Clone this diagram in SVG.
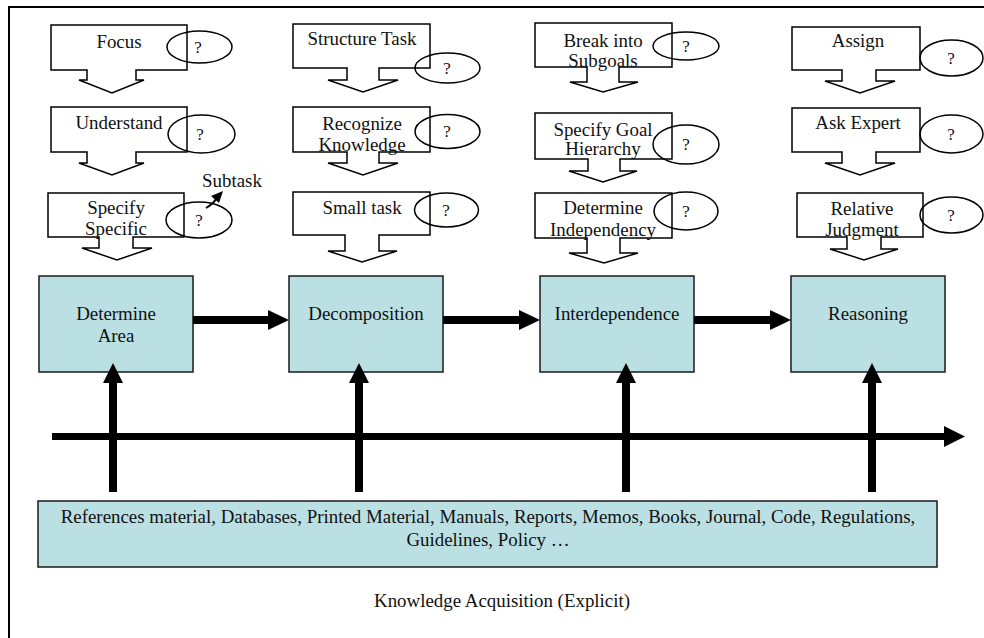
<svg xmlns="http://www.w3.org/2000/svg" width="984" height="638" viewBox="0 0 984 638">
  <defs>
    <style>
      text { font-family: "Liberation Serif", "Times New Roman", serif; font-size: 18.9px; fill: #111; }
      .mid { text-anchor: middle; }
      .callout { fill: #fff; stroke: #000; stroke-width: 1.5; stroke-linejoin: miter; }
      .bubble { fill: none; stroke: #000; stroke-width: 1.5; }
      .q { font-size: 17px; text-anchor: middle; }
      .stage { fill: #bbe0e3; stroke: #1a1a1a; stroke-width: 1.5; }
      .thick { stroke: #000; stroke-width: 8; fill: none; }
      .head { fill: #000; }
    </style>
  </defs>

  <rect width="984" height="638" fill="#fff"/>
  <!-- page frame (top and left edges) -->
  <path d="M9,638 V7 H984" fill="none" stroke="#000" stroke-width="2"/>

  <!-- column 1 callouts -->
  <g id="focus">
    <path class="callout" d="M51,25 H187 V70 H136 V80 H144 L112,93 L79,80 H87 V70 H51 Z"/>
    <text class="mid" x="119" y="48">Focus</text>
    <ellipse class="bubble" cx="199.5" cy="47" rx="32.5" ry="16"/>
    <text class="q" x="198" y="53">?</text>
  </g>
  <g id="understand">
    <path class="callout" d="M51,107 H187 V152 H136 V163 H144 L112,175 L79,163 H87 V152 H51 Z"/>
    <text class="mid" x="119" y="129">Understand</text>
    <ellipse class="bubble" cx="201.5" cy="134" rx="33.5" ry="19"/>
    <text class="q" x="200" y="140">?</text>
  </g>
  <g id="specify-specific">
    <path class="callout" d="M48,193 H184 V237 H133 V248 H152 L117,260 L82,248 H99 V237 H48 Z"/>
    <text class="mid" x="116" y="214">Specify</text>
    <text class="mid" x="116" y="235">Specific</text>
    <ellipse class="bubble" cx="199" cy="220" rx="33" ry="18"/>
    <text class="q" x="199" y="226">?</text>
  </g>
  <g id="subtask">
    <path d="M206,208 Q213,204 216,199" fill="none" stroke="#000" stroke-width="2"/>
    <path class="head" d="M223,191 L219,203 L211,196 Z"/>
    <text x="202" y="187">Subtask</text>
  </g>

  <!-- column 2 callouts -->
  <g id="structure-task">
    <path class="callout" d="M293,24 H430 V68 H379 V80 H398 L363,92 L328,80 H347 V68 H293 Z"/>
    <text class="mid" x="362" y="45">Structure Task</text>
    <ellipse class="bubble" cx="447.5" cy="68" rx="32.5" ry="15"/>
    <text class="q" x="447" y="74">?</text>
  </g>
  <g id="recognize-knowledge">
    <path class="callout" d="M293,107 H430 V152 H379 V163 H398 L363,175 L328,163 H347 V152 H293 Z"/>
    <text class="mid" x="362" y="130">Recognize</text>
    <text class="mid" x="362" y="151">Knowledge</text>
    <ellipse class="bubble" cx="447.5" cy="131.5" rx="32.5" ry="17"/>
    <text class="q" x="447" y="137">?</text>
  </g>
  <g id="small-task">
    <path class="callout" d="M293,192 H430 V235 H379 V251 H397 L362,262 L328,251 H345 V235 H293 Z"/>
    <text class="mid" x="362" y="214">Small task</text>
    <ellipse class="bubble" cx="446.5" cy="210" rx="32" ry="17"/>
    <text class="q" x="446" y="216">?</text>
  </g>

  <!-- column 3 callouts -->
  <g id="break-into-subgoals">
    <path class="callout" d="M535,23 H672 V67 H619 V82 H638 L603,92 L570,82 H587 V67 H535 Z"/>
    <text class="mid" x="603" y="47">Break into</text>
    <text class="mid" x="603" y="67">Subgoals</text>
    <ellipse class="bubble" cx="686" cy="46" rx="33" ry="14"/>
    <text class="q" x="686" y="52">?</text>
  </g>
  <g id="specify-goal-hierarchy">
    <path class="callout" d="M535,113 H672 V159 H620 V171 H637 L603,182 L569,171 H588 V159 H535 Z"/>
    <text class="mid" x="603" y="136">Specify Goal</text>
    <text class="mid" x="603" y="155">Hierarchy</text>
    <ellipse class="bubble" cx="686" cy="144.5" rx="33" ry="19.5"/>
    <text class="q" x="686" y="150">?</text>
  </g>
  <g id="determine-independency">
    <path class="callout" d="M535,193 H672 V238 H620 V253 H638 L604,263 L569,253 H587 V238 H535 Z"/>
    <text class="mid" x="603" y="214">Determine</text>
    <text class="mid" x="603" y="236">Independency</text>
    <ellipse class="bubble" cx="686" cy="211" rx="32" ry="19"/>
    <text class="q" x="686" y="217">?</text>
  </g>

  <!-- column 4 callouts -->
  <g id="assign">
    <path class="callout" d="M792,27 H920 V70 H876 V81 H895 L860,93 L825,81 H842 V70 H792 Z"/>
    <text class="mid" x="858" y="47">Assign</text>
    <ellipse class="bubble" cx="951.5" cy="58" rx="31.5" ry="18"/>
    <text class="q" x="951" y="64">?</text>
  </g>
  <g id="ask-expert">
    <path class="callout" d="M792,108 H920 V152 H876 V163 H895 L860,175 L825,163 H842 V152 H792 Z"/>
    <text class="mid" x="858" y="129">Ask Expert</text>
    <ellipse class="bubble" cx="951.5" cy="134" rx="31.5" ry="19"/>
    <text class="q" x="951" y="140">?</text>
  </g>
  <g id="relative-judgment">
    <path class="callout" d="M797,193 H923 V237 H881 V249 H898 L864,260 L830,249 H847 V237 H797 Z"/>
    <text class="mid" x="862" y="215">Relative</text>
    <text class="mid" x="862" y="236">Judgment</text>
    <ellipse class="bubble" cx="951.5" cy="215" rx="31.5" ry="18"/>
    <text class="q" x="951" y="221">?</text>
  </g>

  <!-- stage boxes -->
  <g id="determine-area">
    <rect class="stage" x="39" y="276" width="154" height="96"/>
    <text class="mid" x="116" y="320">Determine</text>
    <text class="mid" x="116" y="342">Area</text>
  </g>
  <g id="decomposition">
    <rect class="stage" x="289" y="276" width="154" height="96"/>
    <text class="mid" x="366" y="320">Decomposition</text>
  </g>
  <g id="interdependence">
    <rect class="stage" x="540" y="276" width="154" height="96"/>
    <text class="mid" x="617" y="320">Interdependence</text>
  </g>
  <g id="reasoning">
    <rect class="stage" x="791" y="276" width="154" height="96"/>
    <text class="mid" x="868" y="320">Reasoning</text>
  </g>

  <!-- source material box -->
  <g id="sources">
    <rect class="stage" x="38" y="501" width="899" height="66"/>
    <text class="mid" x="488" y="523">References material, Databases, Printed Material, Manuals, Reports, Memos, Books, Journal, Code, Regulations,</text>
    <text class="mid" x="488" y="546">Guidelines, Policy …</text>
  </g>

  <!-- connectors -->
  <g id="connectors">
    <!-- stage to stage -->
    <path class="thick" d="M193,320 H270"/>
    <path class="head" d="M268,310 L289,320 L268,330 Z"/>
    <path class="thick" d="M443,320 H521"/>
    <path class="head" d="M519,310 L540,320 L519,330 Z"/>
    <path class="thick" d="M694,320 H772"/>
    <path class="head" d="M770,310 L791,320 L770,330 Z"/>

    <!-- timeline -->
    <path d="M52,436.5 H946" stroke="#000" stroke-width="7" fill="none"/>
    <path class="head" d="M944,426 L965,436.5 L944,447 Z"/>

    <!-- sources up to stages -->
    <path class="thick" d="M113,492 V381"/>
    <path class="head" d="M103,383 L113,363 L123,383 Z"/>
    <path class="thick" d="M359,492 V381"/>
    <path class="head" d="M349,383 L359,363 L369,383 Z"/>
    <path class="thick" d="M626,492 V381"/>
    <path class="head" d="M616,383 L626,363 L636,383 Z"/>
    <path class="thick" d="M872,492 V381"/>
    <path class="head" d="M862,383 L872,363 L882,383 Z"/>
  </g>

  <text class="mid" x="502" y="607">Knowledge Acquisition (Explicit)</text>
</svg>
